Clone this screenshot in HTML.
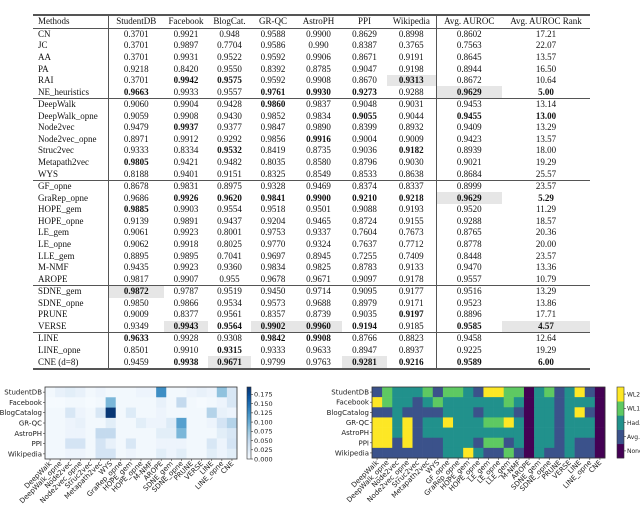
<!DOCTYPE html>
<html><head><meta charset="utf-8">
<style>
body{margin:0;width:640px;height:506px;background:#fff;position:relative;overflow:hidden;font-family:"Liberation Serif",serif;}
#tbl{position:absolute;left:33px;top:14px;border-collapse:collapse;font-size:9px;color:#111;table-layout:fixed;}
#tbl td,#tbl th{height:11.57px;padding:0;line-height:11px;text-align:center;font-weight:normal;white-space:nowrap;}
#tbl td.m,#tbl th.m{text-align:left;padding-left:5px;}
#tbl .vl{border-left:1px solid #555;}
#tbl tr.top th{border-top:2px solid #555;border-bottom:1px solid #555;}
#tbl tr.sep td{border-top:1px solid #555;}
#tbl tr.last td{border-bottom:2px solid #555;}
#tbl b{font-weight:bold;}
#tbl td.hl{background:#e6e6e6;}
svg text{font-family:"DejaVu Sans",sans-serif;}
</style></head><body>
<table id="tbl">
<colgroup><col style="width:75px"><col style="width:56px"><col style="width:44px"><col style="width:43px"><col style="width:44px"><col style="width:47px"><col style="width:45px"><col style="width:49px"><col style="width:66px"><col style="width:88px"></colgroup>
<tbody id="tb"></tbody></table>
<svg id="hm1" width="320" height="136" style="position:absolute;left:0;top:370px"></svg>
<svg id="hm2" width="320" height="136" style="position:absolute;left:320px;top:370px"></svg>
<script>
const headers=["Methods","StudentDB","Facebook","BlogCat.","GR-QC","AstroPH","PPI","Wikipedia","Avg. AUROC","Avg. AUROC Rank"];
// * = bold, ! = highlighted
const rows=[
["CN","0.3701","0.9921","0.948","0.9588","0.9900","0.8629","0.8998","0.8602","17.21"],
["JC","0.3701","0.9897","0.7704","0.9586","0.990","0.8387","0.3765","0.7563","22.07"],
["AA","0.3701","0.9931","0.9522","0.9592","0.9906","0.8671","0.9191","0.8645","13.57"],
["PA","0.9218","0.8420","0.9550","0.8392","0.8785","0.9047","0.9198","0.8944","16.50"],
["RAI","0.3701","*0.9942","*0.9575","0.9592","0.9908","0.8670","*!0.9313","0.8672","10.64"],
["NE_heuristics","*0.9663","0.9933","0.9557","*0.9761","*0.9930","*0.9273","0.9288","*!0.9629","*5.00"],
["DeepWalk","0.9060","0.9904","0.9428","*0.9860","0.9837","0.9048","0.9031","0.9453","13.14"],
["DeepWalk_opne","0.9059","0.9908","0.9430","0.9852","0.9834","*0.9055","0.9044","*0.9455","*13.00"],
["Node2vec","0.9479","*0.9937","0.9377","0.9847","0.9890","0.8399","0.8932","0.9409","13.29"],
["Node2vec_opne","0.8971","0.9912","0.9292","0.9856","*0.9916","0.9004","0.9009","0.9423","13.57"],
["Struc2vec","0.9333","0.8334","*0.9532","0.8419","0.8735","0.9036","*0.9182","0.8939","18.00"],
["Metapath2vec","*0.9805","0.9421","0.9482","0.8035","0.8580","0.8796","0.9030","0.9021","19.29"],
["WYS","0.8188","0.9401","0.9151","0.8325","0.8549","0.8533","0.8638","0.8684","25.57"],
["GF_opne","0.8678","0.9831","0.8975","0.9328","0.9469","0.8374","0.8337","0.8999","23.57"],
["GraRep_opne","0.9686","*0.9926","*0.9620","*0.9841","*0.9900","*0.9210","*0.9218","*!0.9629","*5.29"],
["HOPE_gem","*0.9885","0.9903","0.9554","0.9518","0.9501","0.9088","0.9193","0.9520","11.29"],
["HOPE_opne","0.9139","0.9891","0.9437","0.9204","0.9465","0.8724","0.9155","0.9288","18.57"],
["LE_gem","0.9061","0.9923","0.8001","0.9753","0.9337","0.7604","0.7673","0.8765","20.36"],
["LE_opne","0.9062","0.9918","0.8025","0.9770","0.9324","0.7637","0.7712","0.8778","20.00"],
["LLE_gem","0.8895","0.9895","0.7041","0.9697","0.8945","0.7255","0.7409","0.8448","23.57"],
["M-NMF","0.9435","0.9923","0.9360","0.9834","0.9825","0.8783","0.9133","0.9470","13.36"],
["AROPE","0.9817","0.9907","0.955","0.9678","0.9671","0.9097","0.9178","0.9557","10.79"],
["SDNE_gem","*!0.9872","0.9787","0.9519","0.9450","0.9714","0.9095","0.9177","0.9516","13.29"],
["SDNE_opne","0.9850","0.9866","0.9534","0.9573","0.9688","0.8979","0.9171","0.9523","13.86"],
["PRUNE","0.9009","0.8377","0.9561","0.8357","0.8739","0.9035","*0.9197","0.8896","17.71"],
["VERSE","0.9349","*!0.9943","*0.9564","*!0.9902","*!0.9960","*0.9194","0.9185","*0.9585","*!4.57"],
["LINE","*0.9633","0.9928","0.9308","*0.9842","*0.9908","0.8766","0.8823","0.9458","12.64"],
["LINE_opne","0.8501","0.9910","*0.9315","0.9333","0.9633","0.8947","0.8937","0.9225","19.29"],
["CNE (d=8)","0.9459","*0.9938","*!0.9671","0.9799","0.9763","*!0.9281","*0.9216","*0.9589","*6.00"]];
const seps=[6,13,22,26];
const tb=document.getElementById('tb');
let tr=document.createElement('tr');tr.className='top';
headers.forEach((h,i)=>{const th=document.createElement('th');th.textContent=h;
 th.className=(i==0?'m':'')+((i==1||i==8)?' vl':'');
 
 tr.appendChild(th);});
tb.appendChild(tr);
rows.forEach((r,ri)=>{const tr=document.createElement('tr');
 let c=[];if(seps.includes(ri))c.push('sep');if(ri==rows.length-1)c.push('last');tr.className=c.join(' ');
 
 
 r.forEach((v,i)=>{const td=document.createElement('td');let cls=[];if(i==0)cls.push('m');if(i==1||i==8)cls.push('vl');
  let bold=false;while(v[0]=='*'||v[0]=='!'){if(v[0]=='*')bold=true;else cls.push('hl');v=v.slice(1);}
  td.className=cls.join(' ');if(bold){const b=document.createElement('b');b.textContent=v;td.appendChild(b);}else td.textContent=v;
  tr.appendChild(td);});
 tb.appendChild(tr);});

const NS="http://www.w3.org/2000/svg";
function mk(p,t,a){const e=document.createElementNS(NS,t);for(const k in a)e.setAttribute(k,a[k]);p.appendChild(e);return e;}
const datasets=["StudentDB","Facebook","BlogCatalog","GR-QC","AstroPH","PPI","Wikipedia"];
const methods1=["DeepWalk","DeepWalk_opne","Node2vec","Node2vec_opne","Struc2vec","Metapath2vec","WYS","GraRep_opne","HOPE_gem","HOPE_opne","M-NMF","AROPE","SDNE_gem","SDNE_opne","PRUNE","VERSE","LINE","LINE_opne","CNE"];
const diff_StudentDB=[0.005,0.015,0.02,0.015,0.005,0.01,0.005,0.005,0.005,0.01,0.01,0.125,0.005,0.005,0.01,0.015,0.01,0.08,0.03];
const diff_Facebook=[0.002,0.002,0.005,0.005,0.002,0.005,0.09,0.005,0.005,0.005,0.005,0.015,0.005,0.05,0.005,0.002,0.005,0.01,0.03];
const diff_BlogCatalog=[0.005,0.005,0.03,0.01,0.005,0.03,0.19,0.005,0.025,0.005,0.005,0.01,0.005,0.005,0.005,0.005,0.06,0.015,0.01];
const diff_GRQC=[0.005,0.005,0.01,0.015,0.005,0.005,0.02,0.005,0.005,0.02,0.01,0.01,0.025,0.11,0.005,0.005,0.01,0.035,0.06];
const diff_AstroPH=[0.005,0.005,0.01,0.01,0.005,0.05,0.05,0.005,0.005,0.005,0.005,0.02,0.02,0.09,0.005,0.005,0.005,0.02,0.03];
const diff_PPI=[0.005,0.005,0.035,0.035,0.005,0.035,0.015,0.005,0.03,0.005,0.005,0.01,0.01,0.01,0.005,0.005,0.03,0.01,0.035];
const diff_Wikipedia=[0.005,0.005,0.01,0.01,0.005,0.035,0.035,0.005,0.01,0.005,0.005,0.02,0.01,0.02,0.005,0.005,0.02,0.01,0.02];
const diffRows=[diff_StudentDB,diff_Facebook,diff_BlogCatalog,diff_GRQC,diff_AstroPH,diff_PPI,diff_Wikipedia];
const cbTicks=["0.000","0.025","0.050","0.075","0.100","0.125","0.150","0.175"];
const cbVals=[0,0.025,0.05,0.075,0.1,0.125,0.15,0.175];
function blues(t){t=Math.max(0,Math.min(1,t));
 const st=[[247,251,255],[222,235,247],[198,219,239],[158,202,225],[107,174,214],[66,146,198],[33,113,181],[8,81,156],[8,48,107]];
 const f=t*(st.length-1),i=Math.min(st.length-2,Math.floor(f)),u=f-i;
 return 'rgb('+st[i].map((c,k)=>Math.round(c+(st[i+1][k]-c)*u)).join(',')+')';}
(function(){const s=document.getElementById('hm1');const X0=45,X1=237,Y0=17,Y1=89,vmax=0.195;
 const cw=(X1-X0)/methods1.length,ch=(Y1-Y0)/datasets.length;
 const xs=i=>X0+i*cw,ys=j=>Y0+j*ch;
 diffRows.forEach((row,j)=>row.forEach((v,i)=>{const r=mk(s,'rect',{x:xs(i),y:ys(j),width:cw+0.3,height:ch+0.3,fill:blues(v/vmax)});
  }));
 mk(s,'rect',{x:X0,y:Y0,width:X1-X0,height:Y1-Y0,fill:'none',stroke:'#333','stroke-width':0.8});
 datasets.forEach((d,j)=>{mk(s,'line',{x1:X0-2,x2:X0,y1:ys(j)+ch/2,y2:ys(j)+ch/2,stroke:'#333','stroke-width':0.6});
  const t=mk(s,'text',{x:X0-3,y:ys(j)+ch/2+2.5,'font-size':7,'text-anchor':'end',fill:'#222'});t.textContent=d;
  });
 methods1.forEach((m,i)=>{const x=xs(i)+cw/2;mk(s,'line',{x1:x,x2:x,y1:Y1,y2:Y1+2,stroke:'#333','stroke-width':0.6});
  const t=mk(s,'text',{x:x+2,y:Y1+5,'font-size':7,'text-anchor':'end',fill:'#222',transform:'rotate(-45 '+(x+2)+' '+(Y1+5)+')'});t.textContent=m;
  });
 const cx=247,cwid=4,g=mk(s,'g',{});
 for(let k=0;k<60;k++){const t=k/60;mk(g,'rect',{x:cx,y:Y1-(k+1)*(Y1-Y0)/60,width:cwid,height:(Y1-Y0)/60+0.3,fill:blues(t)});}
 mk(g,'rect',{x:cx,y:Y0,width:cwid,height:Y1-Y0,fill:'none',stroke:'#333','stroke-width':0.6});
 cbVals.forEach((v,k)=>{const y=Y1-v/vmax*(Y1-Y0);mk(g,'line',{x1:cx+cwid,x2:cx+cwid+2,y1:y,y2:y,stroke:'#333','stroke-width':0.6});
  const t=mk(g,'text',{x:cx+cwid+3,y:y+2.3,'font-size':6.5,fill:'#222'});t.textContent=cbTicks[k];});
})();
const methods2=["DeepWalk","DeepWalk_opne","Node2vec","Node2vec_opne","Struc2vec","Metapath2vec","WYS","GF_opne","GraRep_opne","HOPE_gem","HOPE_opne","LE_gem","LE_opne","LLE_gem","M-NMF","AROPE","SDNE_gem","SDNE_opne","PRUNE","VERSE","LINE","LINE_opne","CNE"];
const opNames=["None","Avg.","Had.","WL1","WL2"];
const op_StudentDB=[1,3,2,2,2,3,1,3,3,2,1,4,4,3,3,0,2,3,1,2,4,1,0];
const op_Facebook=[4,3,2,2,1,2,3,2,2,2,2,2,2,3,2,0,2,2,1,2,2,2,0];
const op_BlogCatalog=[1,1,2,1,1,1,1,2,2,2,1,2,2,2,1,0,2,2,1,2,4,1,0];
const op_GRQC=[4,4,2,4,1,2,2,4,2,2,2,3,3,4,2,0,2,2,1,2,2,2,0];
const op_AstroPH=[4,4,2,4,1,2,2,2,2,2,2,2,2,2,2,0,2,2,1,2,2,2,0];
const op_PPI=[4,4,1,4,1,1,1,2,2,2,1,3,3,1,2,0,2,2,1,2,1,1,0];
const op_Wikipedia=[1,1,1,1,1,1,1,2,2,4,2,1,1,3,1,0,2,1,1,2,1,1,0];
const opRows=[op_StudentDB,op_Facebook,op_BlogCatalog,op_GRQC,op_AstroPH,op_PPI,op_Wikipedia];
const vir=["#440154","#3b528b","#21918c","#5ec962","#fde725"];
(function(){const s=document.getElementById('hm2');const X0=52,X1=285,Y0=17,Y1=88;
 const cw=(X1-X0)/methods2.length,ch=(Y1-Y0)/datasets.length;
 const xs=i=>X0+i*cw,ys=j=>Y0+j*ch;
 opRows.forEach((row,j)=>row.forEach((v,i)=>{const r=mk(s,'rect',{x:xs(i),y:ys(j),width:cw+0.3,height:ch+0.3,fill:vir[v]});
  }));
 mk(s,'rect',{x:X0,y:Y0,width:X1-X0,height:Y1-Y0,fill:'none',stroke:'#333','stroke-width':0.8});
 datasets.forEach((d,j)=>{mk(s,'line',{x1:X0-2,x2:X0,y1:ys(j)+ch/2,y2:ys(j)+ch/2,stroke:'#333','stroke-width':0.6});
  const t=mk(s,'text',{x:X0-3,y:ys(j)+ch/2+2.5,'font-size':7,'text-anchor':'end',fill:'#222'});t.textContent=d;
  });
 methods2.forEach((m,i)=>{const x=xs(i)+cw/2;mk(s,'line',{x1:x,x2:x,y1:Y1,y2:Y1+2,stroke:'#333','stroke-width':0.6});
  const t=mk(s,'text',{x:x+2,y:Y1+5,'font-size':7,'text-anchor':'end',fill:'#222',transform:'rotate(-45 '+(x+2)+' '+(Y1+5)+')'});t.textContent=m;
  });
 const cx=297,cwid=7,g=mk(s,'g',{});
 const h=(Y1-Y0)/opNames.length;
 opNames.forEach((n,k)=>{const y=Y1-(k+1)*h;mk(g,'rect',{x:cx,y:y,width:cwid,height:h+0.3,fill:vir[k]});
  mk(g,'line',{x1:cx+cwid,x2:cx+cwid+2,y1:y+h/2,y2:y+h/2,stroke:'#333','stroke-width':0.6});
  const t=mk(g,'text',{x:cx+cwid+3,y:y+h/2+2.3,'font-size':6,fill:'#222'});t.textContent=n;});
 mk(g,'rect',{x:cx,y:Y0,width:cwid,height:Y1-Y0,fill:'none',stroke:'#333','stroke-width':0.6});
})();
</script>
</body></html>
